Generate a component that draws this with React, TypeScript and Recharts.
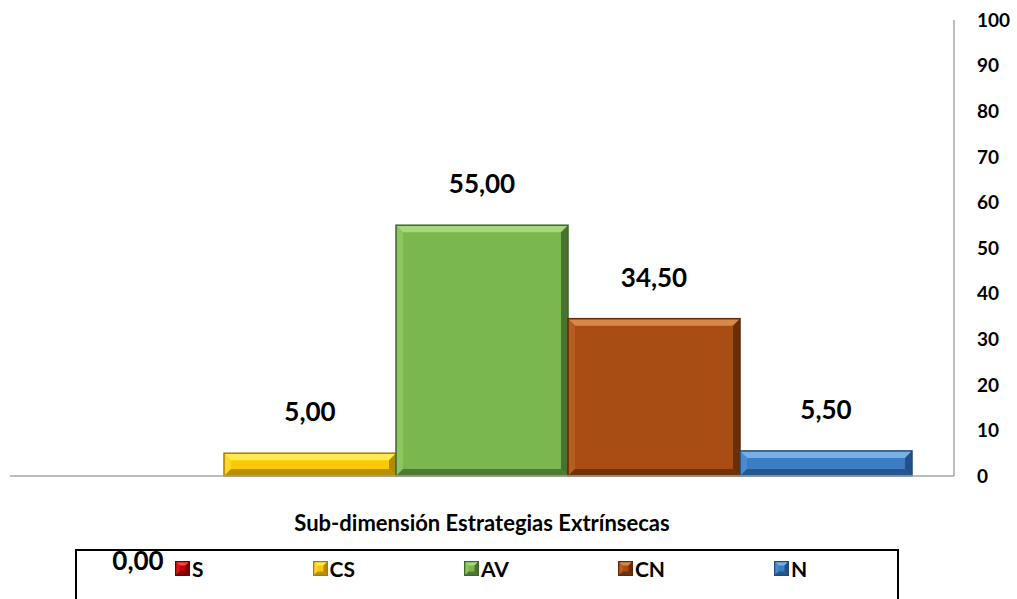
import { BarChart, Bar, XAxis, YAxis, Legend, LabelList } from "recharts";

const categories = ["Sub-dimensión Estrategias Extrínsecas"];
const seriesNames = ["S", "CS", "AV", "CN", "N"];
const seriesValues = [0, 5, 55, 34.5, 5.5];
const yTicks = [0, 10, 20, 30, 40, 50, 60, 70, 80, 90, 100];

type Shade = { base: string; light: string; mid: string; dark: string };

const shades: Shade[] = [
  { base: "#C00000", light: "#FF4040", mid: "#D81818", dark: "#6E0000" },
  { base: "#F8C800", light: "#FFEA50", mid: "#FFD820", dark: "#A47E00" },
  { base: "#7AB74F", light: "#A8D87C", mid: "#8CC660", dark: "#41662A" },
  { base: "#A84E14", light: "#D8884C", mid: "#B85C20", dark: "#5E2A06" },
  { base: "#3C7CC2", light: "#78B0E6", mid: "#4A8AD0", dark: "#1E4A7C" },
];

const data = categories.map((name) => {
  const row: Record<string, string | number> = { name };
  seriesNames.forEach((s, i) => (row[s] = seriesValues[i]));
  return row;
});

const FONT = "Lato, 'Open Sans', sans-serif";
const fmt = (v: any) => Number(v).toFixed(2).replace(".", ",");

function bevel(c: Shade, b0: number) {
  return (props: any) => {
    const { x, y, width, height } = props;
    if (!height || height <= 0) return <g />;
    const b = Math.min(b0, height / 2, width / 2);
    const r = x + width;
    const btm = y + height;
    return (
      <g>
        <rect x={x} y={y} width={width} height={height} fill={c.base} />
        <polygon points={`${x},${y} ${r},${y} ${r - b},${y + b} ${x + b},${y + b}`} fill={c.light} />
        <polygon points={`${x},${y} ${x + b},${y + b} ${x + b},${btm - b} ${x},${btm}`} fill={c.mid} />
        <polygon points={`${r},${y} ${r},${btm} ${r - b},${btm - b} ${r - b},${y + b}`} fill={c.dark} opacity={0.85} />
        <polygon points={`${x},${btm} ${r},${btm} ${r - b},${btm - b} ${x + b},${btm - b}`} fill={c.dark} opacity={0.75} />
        <rect x={x} y={y} width={width} height={height} fill="none" stroke={c.dark} strokeWidth={1.5} />
      </g>
    );
  };
}

function LegendSwatch({ c }: { c: Shade }) {
  return (
    <svg width={15} height={15} style={{ display: "block" }}>
      {bevel(c, 4)({ x: 0.5, y: 0.5, width: 14, height: 14 })}
    </svg>
  );
}

function LegendBox() {
  return (
    <div
      style={{
        boxSizing: "border-box",
        width: 824,
        height: 52,
        border: "2px solid #000",
        borderBottom: "none",
        display: "flex",
        alignItems: "flex-start",
        paddingLeft: 98,
        paddingTop: 5,
        gap: 109,
        fontFamily: FONT,
        fontWeight: 700,
        fontSize: 21,
        color: "#000",
      }}
    >
      {seriesNames.map((s, i) => (
        <div key={s} style={{ display: "flex", alignItems: "center", gap: 2 }}>
          <LegendSwatch c={shades[i]} />
          <span>{s}</span>
        </div>
      ))}
    </div>
  );
}

export default function App() {
  return (
    <div style={{ position: "absolute", left: 0, top: 0, background: "#fff" }}>
      <BarChart
        width={1017}
        height={599}
        data={data}
        margin={{ top: 20, right: 0, left: 10, bottom: 11 }}
        barCategoryGap="4.45%"
        barGap={0}
      >
        <XAxis
          dataKey="name"
          tick={false}
          tickLine={false}
          height={60}
          axisLine={{ stroke: "#A6A6A6", strokeWidth: 1.5 }}
          label={{
            value: categories[0],
            position: "insideBottom",
            offset: 5,
            style: { fontFamily: FONT, fontWeight: 700, fontSize: 22, fill: "#000" },
          }}
        />
        <YAxis
          orientation="right"
          width={63}
          domain={[0, 100]}
          ticks={yTicks}
          tickLine={false}
          tickSize={0}
          tickMargin={23}
          axisLine={{ stroke: "#A6A6A6", strokeWidth: 1.5 }}
          tick={{ fontFamily: FONT, fontWeight: 700, fontSize: 19, fill: "#000", textAnchor: "start" }}
        />
        <Legend
          content={<LegendBox />}
          wrapperStyle={{ position: "absolute", left: 75, top: 549, width: 824, height: 52, bottom: "auto" }}
        />
        {seriesNames.map((s, i) => (
          <Bar key={s} dataKey={s} shape={bevel(shades[i], 7)} isAnimationActive={false}>
            <LabelList
              dataKey={s}
              position={seriesValues[i] === 0 ? "bottom" : "top"}
              offset={seriesValues[i] === 0 ? 76 : 32}
              formatter={fmt}
              style={{ fontFamily: FONT, fontWeight: 700, fontSize: 26, fill: "#000" }}
            />
          </Bar>
        ))}
      </BarChart>
    </div>
  );
}
